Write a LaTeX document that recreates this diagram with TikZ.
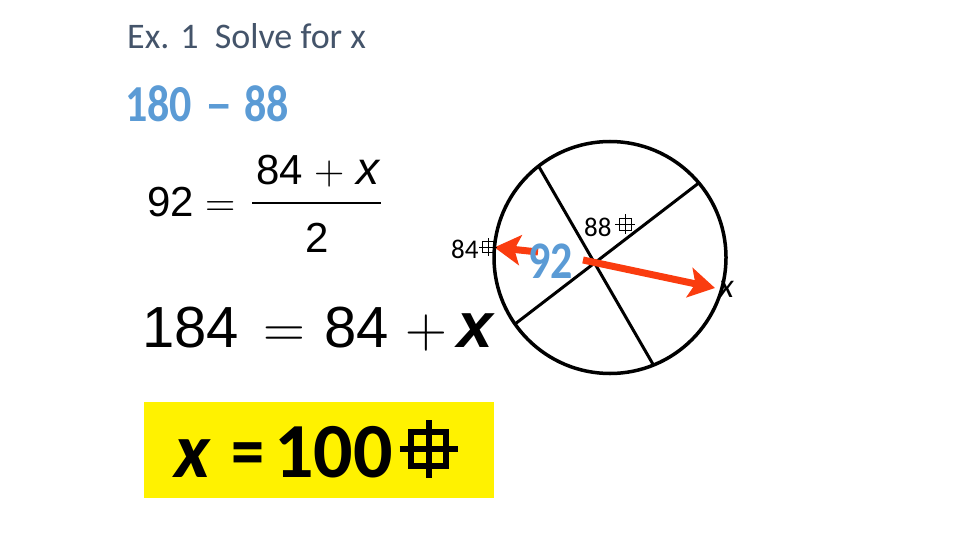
\documentclass[tikz,border=0pt]{standalone}
\usepackage{fontspec}
\setmainfont{Liberation Sans}
\newfontfamily\calib{Carlito}
\newcommand\lmsym{\fontfamily{lmr}\selectfont}
\usetikzlibrary{arrows.meta}

\definecolor{titlegray}{RGB}{68,84,106}
\definecolor{numblue}{RGB}{91,155,213}
\definecolor{arrowred}{RGB}{250,60,15}

\tikzset{
    crossbox/.pic = {
        \draw (-0.3,-0.3) rectangle (0.3,0.3) (-0.5,0) -- (0.5,0) (0,-0.5) -- (0,0.5);
    },
    txt/.style = {anchor = base west, inner sep = 0},
    chord/.style = {line width = 3},
    redarrow/.style = {arrowred, line width = 7, -{Stealth[length = 26pt, width = 30pt, inset = 6pt]}}
}

\begin{document}
\begin{tikzpicture}[x = 1pt, y = -1pt]
    \useasboundingbox (0,0) rectangle (960,540);
    \node[txt, text = titlegray, font = \calib\fontsize{36}{40}\selectfont] (title) at (127,49) {Ex. 1\ \ Solve for x};
    \node[txt, text = numblue, font = \calib\bfseries\fontsize{44}{48}\selectfont] (diff) at (125,122)
    {\scalebox{1}[1.18]{180\hspace{13pt}\scalebox{1.25}[1]{–}\hspace{12pt}88}};

    % 92 = (84 + x) / 2
    \node[txt, font = \fontsize{42}{48}\selectfont] (eqa) at (147,216) {92 {\lmsym =}};
    \node[txt, font = \fontsize{42}{48}\selectfont] (numer) at (256,185) {84 {\lmsym +} {\fontsize{46}{48}\selectfont\itshape x}};
    \node[txt, font = \fontsize{42}{48}\selectfont] (denom) at (305,252) {2};
    \draw[line width = 2] (252,203) -- (381,203);

    \node[txt, font = \fontsize{58}{64}\selectfont] (eqb) at (142,347)
    {184\hspace{25pt}{\lmsym =}\hspace{19pt}84\hspace{16pt}{\lmsym +}\hspace{10pt}{\fontsize{64}{64}\selectfont\bfseries\itshape x}};

    \node[draw, circle, line width = 3.5, minimum size = 232, inner sep = 0, outer sep = 0] (circ) at (610,257.5) {};
    \draw[chord]
    (circ.128) -- (circ.292)
    (circ.40) -- (circ.215);

    \coordinate (tail84) at (538,252);
    \coordinate (tailx) at (583,260);
    \coordinate (tipx) at (715,288);
    \draw[redarrow] (tail84) -- (circ.175);
    \draw[redarrow] (tailx) -- (tipx);

    \node[txt, font = \calib\fontsize{27}{30}\selectfont] (lab84) at (451,258) {84};
    \pic[scale = 18, line width = 0.8] at (488,247) {crossbox};
    \node[txt, font = \calib\fontsize{27}{30}\selectfont] (lab88) at (584,236) {88};
    \pic[scale = 20, line width = 0.8] at (625,224) {crossbox};
    \node[txt, text = numblue, font = \calib\bfseries\fontsize{44}{48}\selectfont] (ang92) at (528,278) {\scalebox{1}[1.2]{92}};
    \node[txt, font = \calib\itshape\fontsize{34}{36}\selectfont] (labx) at (719,297) {x};

    \node[fill = yellow, anchor = north west, minimum width = 350, minimum height = 96, inner sep = 0] (ansbox) at (144,402) {};
    \node[txt, font = \calib\bfseries\fontsize{78}{84}\selectfont] (ans) at (174,477) {\textit{x}\hspace{21pt}\scalebox{0.85}[1]{=}\hspace{9pt}100};
    \pic[scale = 58, line width = 6] at (428.5,449) {crossbox};
\end{tikzpicture}
\end{document}
